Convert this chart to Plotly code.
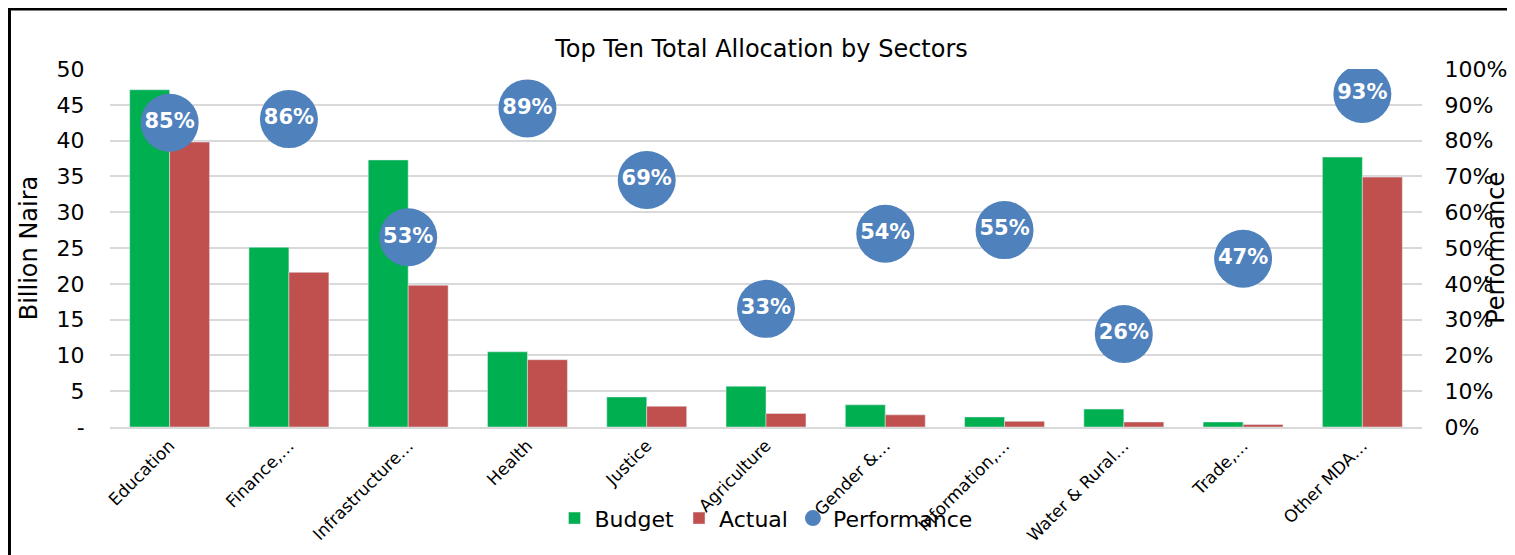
import plotly.graph_objects as go

sectors = ["Education", "Finance,…", "Infrastructure…", "Health", "Justice", "Agriculture",
           "Gender &…", "Information,…", "Water & Rural…", "Trade,…", "Other MDA…"]
budget = [47.1, 25.1, 37.3, 10.5, 4.2, 5.7, 3.1, 1.4, 2.5, 0.7, 37.7]
actual = [39.8, 21.6, 19.8, 9.4, 2.9, 1.9, 1.7, 0.8, 0.7, 0.35, 34.9]
performance = [0.85, 0.86, 0.53, 0.89, 0.69, 0.33, 0.54, 0.55, 0.26, 0.47, 0.93]
perf_labels = ["85%", "86%", "53%", "89%", "69%", "33%", "54%", "55%", "26%", "47%", "93%"]

left_ticks = [0, 5, 10, 15, 20, 25, 30, 35, 40, 45, 50]
left_tick_text = ["-", "5", "10", "15", "20", "25", "30", "35", "40", "45", "50"]

FONT = "DejaVu Sans"
GREEN = "#00B050"
RED = "#C0504D"
BLUE = "#4F81BD"

fig = go.Figure()
fig.add_trace(go.Bar(x=sectors, y=budget, name="Budget", marker=dict(color=GREEN)))
fig.add_trace(go.Bar(x=sectors, y=actual, name="Actual", marker=dict(color=RED)))
fig.add_trace(go.Scatter(
    x=sectors, y=performance, name="Performance", yaxis="y2",
    mode="markers+text", text=perf_labels, textposition="middle center",
    textfont=dict(family=FONT, size=21, color="white", weight="bold"),
    marker=dict(color=BLUE, size=58, line=dict(width=0)),
))

# page body has an 8px default margin, so the figure is sized to fill the window
fig.update_layout(
    width=1507, height=547,
    margin=dict(l=102, r=93, t=61, b=128),
    paper_bgcolor="white", plot_bgcolor="white",
    font=dict(family=FONT, color="black"),
    title=dict(text="Top Ten Total Allocation by Sectors", x=0.5, xanchor="center",
               y=0.926, yanchor="middle", font=dict(size=24, color="black")),
    barmode="group", bargap=0.33, bargroupgap=0,
    showlegend=True,
    legend=dict(orientation="h", x=0.5, xanchor="center", y=-0.255, yanchor="middle",
                font=dict(size=22), itemsizing="trace", traceorder="normal",
                bgcolor="rgba(0,0,0,0)"),
    xaxis=dict(range=[-0.5, len(sectors) - 0.5], tickangle=-45, tickfont=dict(size=17),
               showgrid=False, automargin=False,
               showline=True, linecolor="#D9D9D9", linewidth=2, ticks=""),
    yaxis=dict(range=[0, 50], tickvals=left_ticks, ticktext=left_tick_text, automargin=False,
               tickfont=dict(size=22), showgrid=True, gridcolor="#D9D9D9", gridwidth=2,
               zeroline=False, ticks="outside", ticklen=20, tickcolor="rgba(0,0,0,0)",
               title=dict(text="Billion Naira", font=dict(size=24), standoff=12)),
    yaxis2=dict(range=[0, 1], overlaying="y", side="right", dtick=0.1, tickformat=".0%",
                automargin=False,
                tickfont=dict(size=22), showgrid=False, zeroline=False,
                ticks="outside", ticklen=17, tickcolor="rgba(0,0,0,0)"),
)

# right axis title pushed to the far right edge, as in the original
fig.add_annotation(text="Performance", xref="paper", yref="paper", x=1.0685, y=0.5,
                   xanchor="right", yanchor="middle", textangle=-90, showarrow=False,
                   font=dict(size=24, color="black"))

# chart frame border
fig.add_shape(type="rect", xref="paper", yref="paper", x0=-0.077, x1=1.2, y0=-0.5, y1=1.169,
              line=dict(color="black", width=4), fillcolor="rgba(0,0,0,0)", layer="below")

fig.write_html("out.html")
